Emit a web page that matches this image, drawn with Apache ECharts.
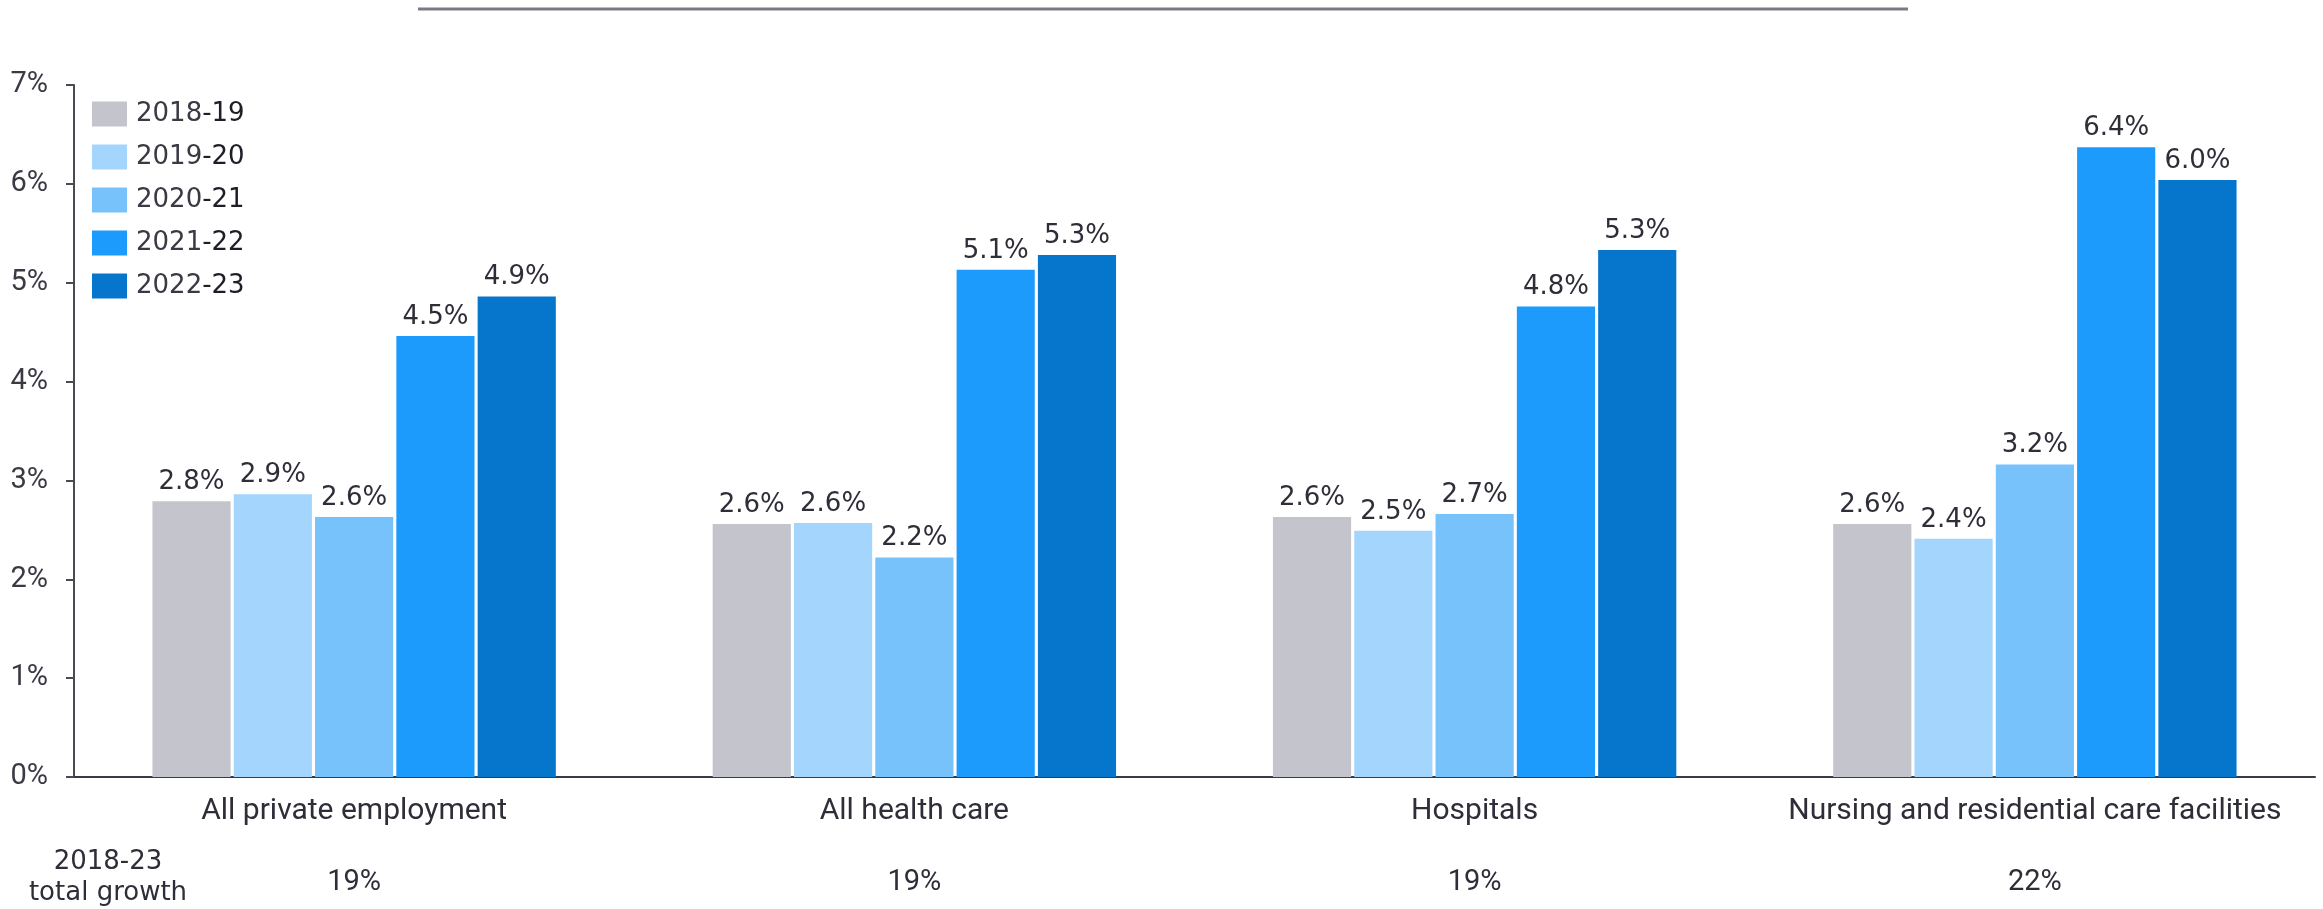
<!DOCTYPE html>
<html>
<head>
<meta charset="utf-8">
<script src="https://cdn.jsdelivr.net/npm/echarts@6/dist/echarts.min.js"></script>
<style>html,body{margin:0;padding:0;background:#fff;}#c{width:2323px;height:909px;}</style>
</head>
<body>
<div id="c"></div>
<script>
const categories = ['All private employment', 'All health care', 'Hospitals', 'Nursing and residential care facilities'];
const periods = ['2018-19', '2019-20', '2020-21', '2021-22', '2022-23'];
const s2018_19 = [2.79, 2.56, 2.63, 2.56];
const s2019_20 = [2.86, 2.57, 2.49, 2.41];
const s2020_21 = [2.63, 2.22, 2.66, 3.16];
const s2021_22 = [4.46, 5.13, 4.76, 6.37];
const s2022_23 = [4.86, 5.28, 5.33, 6.04];
const totalGrowth = ['19%', '19%', '19%', '22%'];
const yTicks = [0, 1, 2, 3, 4, 5, 6, 7];
const colors = ['#c4c4cd', '#a3d5fd', '#78c2fb', '#1d9bfc', '#0676cc'];

const seriesValues = [s2018_19, s2019_20, s2020_21, s2021_22, s2022_23];
const narrow = '"Roboto", sans-serif';
const dv = '"DejaVu Sans", sans-serif';
const txt = '#2e2e38';

const chart = echarts.init(document.getElementById('c'), null, {renderer: 'canvas'});
chart.setOption({
  animation: false,
  backgroundColor: '#ffffff',
  color: colors,
  grid: {left: 74, right: 8, top: 85, bottom: 132, containLabel: false},
  legend: {
    left: 87, top: 96, orient: 'vertical',
    itemWidth: 35, itemHeight: 25, itemGap: 17,
    icon: 'rect',
    data: periods,
    formatter: function (n) {
      const p = n.split('-');
      return '{a|' + p[0] + '}{b|-' + p[1] + '}';
    },
    textStyle: {
      padding: [0, 0, 0, 4],
      rich: {
        a: {fontFamily: dv, fontSize: 26, color: '#3a3a44', lineHeight: 25},
        b: {fontFamily: dv, fontSize: 26, color: '#1e1e28', lineHeight: 25}
      }
    }
  },
  xAxis: [{
    type: 'category', data: categories, position: 'bottom',
    axisLine: {show: true, lineStyle: {color: '#3a3a44', width: 2}},
    axisTick: {show: false},
    axisLabel: {interval: 0, fontFamily: narrow, fontSize: 30, color: txt, margin: 18, lineHeight: 32}
  }, {
    type: 'category', data: totalGrowth, position: 'bottom',
    axisLine: {show: false}, axisTick: {show: false},
    axisLabel: {interval: 0, fontFamily: narrow, fontSize: 29, color: txt, margin: 91, lineHeight: 30}
  }],
  yAxis: {
    type: 'value', min: yTicks[0], max: yTicks[yTicks.length - 1], interval: 1,
    axisLine: {show: true, lineStyle: {color: '#4a4a54', width: 2}},
    axisTick: {show: true, length: 8, lineStyle: {color: '#4a4a54', width: 2}},
    splitLine: {show: false},
    axisLabel: {fontFamily: narrow, fontSize: 29, color: '#3a3a44', margin: 26, formatter: '{value}%'}
  },
  series: seriesValues.map(function (vals, i) {
    return {
      name: periods[i], type: 'bar', data: vals, xAxisIndex: 0,
      barGap: '4%', barCategoryGap: '28%',
      itemStyle: {color: colors[i]},
      label: {
        show: true, position: 'top', distance: 6,
        fontFamily: dv, fontSize: 26, color: txt,
        formatter: function (p) { return p.value.toFixed(1) + '%'; }
      }
    };
  }),
  graphic: [
    {type: 'line', shape: {x1: 418, y1: 9, x2: 1908, y2: 9}, style: {stroke: '#7a7a86', lineWidth: 3}},
    {type: 'text', x: 108, y: 862, style: {text: '2018-23', fontFamily: dv, fontSize: 26, fill: txt, textAlign: 'center', textVerticalAlign: 'middle'}},
    {type: 'text', x: 108, y: 893, style: {text: 'total growth', fontFamily: dv, fontSize: 26, fill: txt, textAlign: 'center', textVerticalAlign: 'middle'}}
  ]
});
</script>
</body>
</html>
